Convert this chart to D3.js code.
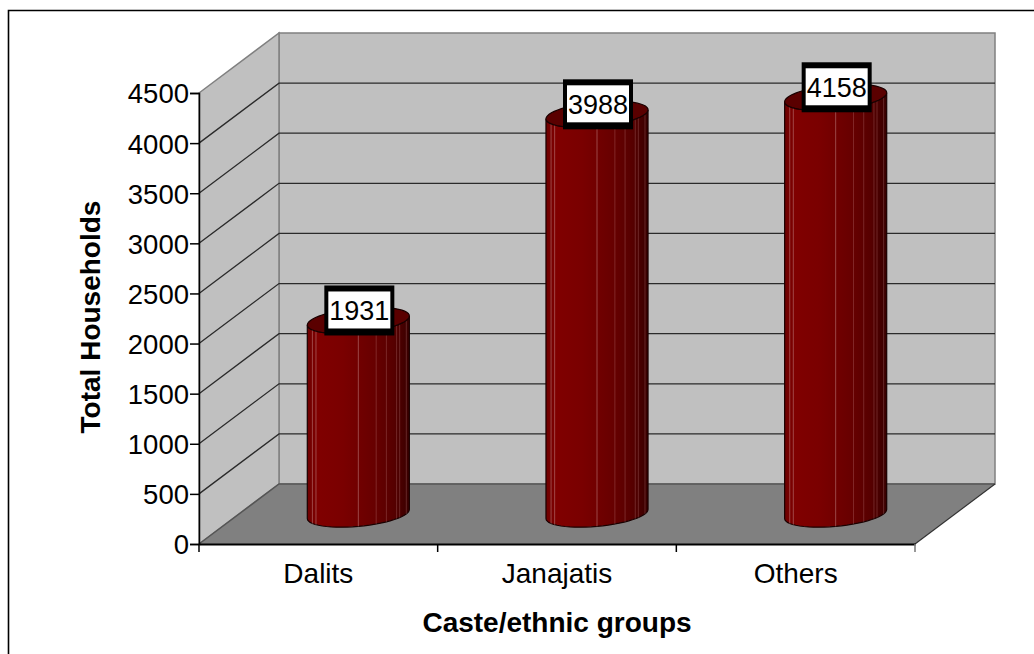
<!DOCTYPE html>
<html>
<head>
<meta charset="utf-8">
<style>
  html, body { margin: 0; padding: 0; background: #fff; }
  svg { display: block; }
  text { font-family: "Liberation Sans", Arial, sans-serif; fill: #000; }
</style>
<script src="https://cdn.jsdelivr.net/npm/d3@7"></script>
</head>
<body>
<svg id="chart" width="1034" height="654"></svg>
<script>
// Households per caste/ethnic group
const categories = ["Dalits", "Janajatis", "Others"];
const households = [1931, 3988, 4158];
const yTicks = [0, 500, 1000, 1500, 2000, 2500, 3000, 3500, 4000, 4500];
const xTitle = "Caste/ethnic groups";
const yTitle = "Total Households";

// Plot box and the oblique depth of the 3D walls
const plotLeft = 199, plotRight = 915, plotBottom = 544, plotTop = 93;
const depthX = 80, depthY = 60;

// Column cross-section: an oblique circle on the floor
const radiusA = 47.9, radiusB = 22;
const skewX = depthX / 100, skewY = depthY / 100;
const phase = Math.atan2(radiusB * skewX, radiusA);
// Horizontal position of the facet seams, as a fraction of the half width
const seams = [-0.9, -0.83, 0, 0.35, 0.55, 0.75, 0.81, 0.94];

const svg = d3.select("#chart");
const x = d3.scaleBand().domain(categories).range([plotLeft, plotRight]);
const y = d3.scaleLinear().domain([0, 4500]).range([plotBottom, plotTop]);

const defs = svg.append("defs");
const shade = defs.append("linearGradient").attr("id", "columnShade");
[[0, "#6e0000"], [0.1, "#800000"], [0.35, "#7a0000"], [0.65, "#680000"], [0.85, "#560000"], [1, "#380000"]]
  .forEach(([o, c]) => shade.append("stop").attr("offset", o).attr("stop-color", c));

// Chart frame: only the top and left edges show
svg.append("path").attr("d", "M8.5,654V10.5H1034").attr("fill", "none").attr("stroke", "#000").attr("stroke-width", 1.6);

const poly = pts => "M" + pts.map(p => p.join(",")).join("L") + "Z";

// Back wall, side wall, floor
svg.append("path")
  .attr("d", poly([[plotLeft + depthX, y(4500) - depthY], [plotRight + depthX, y(4500) - depthY], [plotRight + depthX, plotBottom - depthY], [plotLeft + depthX, plotBottom - depthY]]))
  .attr("fill", "#c0c0c0").attr("stroke", "#808080").attr("stroke-width", 1.5);
svg.append("path")
  .attr("d", poly([[plotLeft, y(4500)], [plotLeft + depthX, y(4500) - depthY], [plotLeft + depthX, plotBottom - depthY], [plotLeft, plotBottom]]))
  .attr("fill", "#c0c0c0").attr("stroke", "#808080").attr("stroke-width", 1.5);
svg.append("path")
  .attr("d", poly([[plotLeft, plotBottom], [plotLeft + depthX, plotBottom - depthY], [plotRight + depthX, plotBottom - depthY], [plotRight, plotBottom]]))
  .attr("fill", "#808080");

// Gridlines across both walls
const gridTicks = yTicks.filter(t => t > 0 && t < 4500);
svg.append("g").selectAll("path").data(gridTicks).join("path")
  .attr("d", t => `M${plotLeft},${y(t)}L${plotLeft + depthX},${y(t) - depthY}H${plotRight + depthX}`)
  .attr("fill", "none").attr("stroke", "#2a2a2a").attr("stroke-width", 1.3);

// Floor edges
svg.append("path")
  .attr("d", `M${plotLeft},${plotBottom}L${plotLeft + depthX},${plotBottom - depthY}H${plotRight + depthX}`)
  .attr("fill", "none").attr("stroke", "#555").attr("stroke-width", 1.5);
svg.append("path")
  .attr("d", `M${plotRight},${plotBottom}L${plotRight + depthX},${plotBottom - depthY}`)
  .attr("fill", "none").attr("stroke", "#333").attr("stroke-width", 1.2);

// Point on the cross-section outline around a given centre
const rim = (cx, cy, t) => [
  cx + radiusA * Math.cos(t) + radiusB * skewX * Math.sin(t),
  cy - radiusB * skewY * Math.sin(t)
];
const arcAngles = d3.range(0, 29).map(i => phase - Math.PI * i / 28);
const fullAngles = d3.range(0, 56).map(i => 2 * Math.PI * i / 56);

const columns = svg.append("g").selectAll("g")
  .data(categories.map((c, i) => ({ c, v: households[i] })))
  .join("g");

columns.each(function (d) {
  const g = d3.select(this);
  const cx = x(d.c) + x.bandwidth() / 2 + depthX / 2;
  const baseY = y(0) - depthY / 2;
  const topY = y(d.v) - depthY / 2;
  const front = arcAngles.map(t => rim(cx, baseY, t));
  const frontTop = arcAngles.map(t => rim(cx, topY, t)).reverse();

  g.append("path").attr("d", poly(front.concat(frontTop)))
    .attr("fill", "url(#columnShade)").attr("stroke", "#1a0000").attr("stroke-width", 1.2);

  // Facet seams
  seams.forEach((k, i) => {
    const t = phase - Math.acos(k);
    const p = rim(cx, baseY, t), q = rim(cx, topY, t);
    g.append("line").attr("x1", p[0]).attr("y1", p[1]).attr("x2", q[0]).attr("y2", q[1])
      .attr("stroke", "#c08080").attr("stroke-opacity", i > 2 ? 0.3 : 0.55).attr("stroke-width", 1);
  });

  g.append("path").attr("d", poly(fullAngles.map(t => rim(cx, topY, t))))
    .attr("fill", "#5a0000").attr("stroke", "#1a0000").attr("stroke-width", 1.2);
});

// Value labels on white boxes with a heavy black border
const labels = svg.append("g").selectAll("g")
  .data(categories.map((c, i) => ({ c, v: households[i] })))
  .join("g")
  .attr("transform", d => `translate(${x(d.c) + x.bandwidth() / 2 + depthX / 2 + 1},${y(d.v) - depthY / 2 - 10})`);
labels.append("rect").attr("x", -35).attr("y", -25).attr("width", 70).attr("height", 50).attr("fill", "#000");
labels.append("rect").attr("x", -31).attr("y", -19).attr("width", 62).attr("height", 37).attr("fill", "#fff");
labels.append("text").attr("text-anchor", "middle").attr("y", 9.5).attr("font-size", 27).text(d => d.v);

// Axes
const yAxis = svg.append("g").attr("transform", `translate(${plotLeft},0)`)
  .call(d3.axisLeft(y).tickValues(yTicks).tickFormat(d3.format("d")).tickSize(9).tickPadding(1));
yAxis.selectAll("text").attr("font-size", 27.5).attr("dy", "0.36em");
yAxis.selectAll("line,path").attr("stroke", "#000").attr("stroke-width", 1.5);

const xAxis = svg.append("g").attr("transform", `translate(0,${plotBottom})`)
  .call(d3.axisBottom(x).tickSize(0).tickPadding(19));
xAxis.selectAll("text").attr("font-size", 28);
xAxis.select(".domain").attr("stroke", "#000").attr("stroke-width", 2);
// Category boundary ticks
svg.append("g").selectAll("line")
  .data(d3.range(categories.length + 1))
  .join("line")
  .attr("x1", i => plotLeft + i * x.bandwidth()).attr("x2", i => plotLeft + i * x.bandwidth())
  .attr("y1", plotBottom).attr("y2", plotBottom + 8)
  .attr("stroke", i => i === categories.length ? "#777" : "#000").attr("stroke-width", 1.5);

// Axis titles
svg.append("text").attr("x", 557).attr("y", 632).attr("text-anchor", "middle")
  .attr("font-size", 28).attr("font-weight", "bold").text(xTitle);
svg.append("text").attr("transform", "translate(100,317) rotate(-90)").attr("text-anchor", "middle")
  .attr("font-size", 28).attr("font-weight", "bold").text(yTitle);
</script>
</body>
</html>
